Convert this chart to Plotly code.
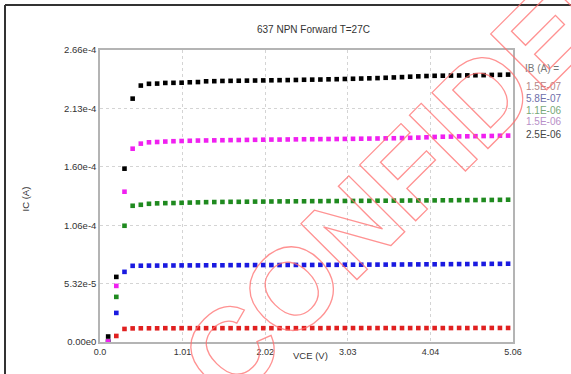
import plotly.graph_objects as go

# ---- data (IC in microamps) ----
vce = [0.1, 0.2, 0.3, 0.4, 0.5, 0.6, 0.7, 0.8, 0.9, 1.0,
       1.1, 1.2, 1.3, 1.4, 1.5, 1.6, 1.7, 1.8, 1.9, 2.0,
       2.1, 2.2, 2.3, 2.4, 2.5, 2.6, 2.7, 2.8, 2.9, 3.0,
       3.1, 3.2, 3.3, 3.4, 3.5, 3.6, 3.7, 3.8, 3.9, 4.0,
       4.1, 4.2, 4.3, 4.4, 4.5, 4.6, 4.7, 4.8, 4.9, 5.0]

ib_labels = ["1.5E-07", "5.8E-07", "1.1E-06", "1.5E-06", "2.5E-06"]

ic_ib1 = [0.3, 5.5, 11.9, 12.4, 12.5, 12.5, 12.5, 12.6, 12.5, 12.6,
          12.6, 12.6, 12.6, 12.6, 12.6, 12.6, 12.6, 12.6, 12.6, 12.6,
          12.6, 12.6, 12.6, 12.6, 12.6, 12.7, 12.6, 12.7, 12.7, 12.7,
          12.7, 12.7, 12.7, 12.7, 12.7, 12.7, 12.7, 12.7, 12.7, 12.7,
          12.7, 12.7, 12.7, 12.8, 12.7, 12.8, 12.8, 12.8, 12.8, 12.8]

ic_ib2 = [0.3, 26.5, 63.9, 69.4, 69.5, 69.6, 69.6, 69.7, 69.7, 69.8,
          69.8, 69.8, 69.9, 69.9, 69.9, 70.0, 70.0, 70.0, 70.1, 70.1,
          70.1, 70.1, 70.2, 70.2, 70.2, 70.2, 70.3, 70.3, 70.3, 70.4,
          70.4, 70.4, 70.5, 70.5, 70.5, 70.6, 70.6, 70.7, 70.7, 70.8,
          70.8, 70.9, 70.9, 71.0, 71.0, 71.1, 71.1, 71.2, 71.2, 71.3]

ic_ib3 = [0.3, 41.1, 105.9, 124.1, 125.0, 125.9, 126.3, 126.5, 126.6, 126.8,
          127.0, 127.2, 127.4, 127.5, 127.6, 127.7, 127.7, 127.8, 127.9, 127.9,
          128.0, 128.1, 128.1, 128.2, 128.2, 128.3, 128.3, 128.4, 128.4, 128.5,
          128.5, 128.6, 128.6, 128.7, 128.7, 128.8, 128.8, 128.9, 128.9, 129.0,
          129.0, 129.1, 129.1, 129.2, 129.2, 129.3, 129.4, 129.4, 129.5, 129.6]

ic_ib4 = [0.5, 51.1, 136.9, 176.1, 180.7, 181.9, 182.2, 182.6, 182.9, 183.1,
          183.3, 183.5, 183.6, 183.7, 183.8, 183.9, 184.0, 184.1, 184.2, 184.3,
          184.4, 184.4, 184.5, 184.6, 184.7, 184.7, 184.8, 184.9, 184.9, 185.0,
          185.1, 185.2, 185.3, 185.4, 185.5, 185.6, 185.8, 186.0, 186.2, 186.5,
          186.8, 187.0, 187.1, 187.3, 187.4, 187.5, 187.6, 187.7, 187.9, 188.0]

ic_ib5 = [5.0, 59.3, 157.9, 221.7, 233.6, 235.2, 235.4, 236.0, 236.1, 236.2,
          236.6, 236.8, 237.5, 237.6, 237.8, 237.9, 238.0, 238.1, 238.2, 238.3,
          238.4, 238.5, 238.6, 238.7, 238.9, 239.0, 239.1, 239.3, 239.4, 239.6,
          239.8, 240.0, 240.2, 240.4, 240.7, 241.0, 241.3, 241.7, 242.0, 242.3,
          242.5, 242.6, 242.7, 242.8, 242.9, 243.0, 243.1, 243.3, 243.4, 243.6]

series = [ic_ib1, ic_ib2, ic_ib3, ic_ib4, ic_ib5]
marker_colors = ["#e02020", "#1a1ae0", "#1f8a1f", "#f020f0", "#000000"]
label_colors = ["#b48888", "#6e6eaa", "#78a878", "#b890c8", "#444444"]

x_ticks = [0.0, 1.012, 2.024, 3.036, 4.048, 5.06]
x_ticktext = ["0.0", "1.01", "2.02", "3.03", "4.04", "5.06"]
y_ticks = [0.0, 5.32e-5, 1.064e-4, 1.596e-4, 2.128e-4, 2.66e-4]
y_ticktext = ["0.00e0", "5.32e-5", "1.06e-4", "1.60e-4", "2.13e-4", "2.66e-4"]

W, H = 571, 374
ML, MR, MT, MB = 100, 58, 50, 32
PW, PH = W - ML - MR, H - MT - MB


def px(xpix):
    return (xpix - ML) / PW


def py(ypix):
    return (H - MB - ypix) / PH


fig = go.Figure()
for vals, col in zip(series, marker_colors):
    fig.add_trace(go.Scatter(
        x=vce, y=[v * 1e-6 for v in vals], mode="markers",
        marker=dict(symbol="square", size=4.6, color=col, line=dict(width=0)),
        showlegend=False, hoverinfo="skip"))

font = "Liberation Sans, Arial, sans-serif"
ann = []
ann.append(dict(text="637 NPN Forward T=27C", x=px(313), y=py(22), xref="paper", yref="paper",
                showarrow=False, font=dict(family=font, size=10, color="#333333")))
ann.append(dict(text="IC (A)", x=px(18), y=py(199), xref="paper", yref="paper", textangle=-90,
                showarrow=False, font=dict(family=font, size=9.5, color="#333333")))
ann.append(dict(text="VCE (V)", x=px(310), y=py(363), xref="paper", yref="paper",
                showarrow=False, font=dict(family=font, size=9.5, color="#333333")))
ann.append(dict(text="IB (A) =", x=px(523), y=py(61), xref="paper", yref="paper", xanchor="left",
                showarrow=False, font=dict(family=font, size=10, color="#777777")))
leg_y = [79, 91, 103, 114, 127]
for lab, col, yy in zip(ib_labels, label_colors, leg_y):
    ann.append(dict(text=lab, x=px(524), y=py(yy), xref="paper", yref="paper", xanchor="left",
                    showarrow=False, font=dict(family=font, size=10, color=col)))
# watermark (outlined via post script)
ann.append(dict(text="CONFIDENTIAL", x=px(504), y=py(76), xref="paper", yref="paper",
                xanchor="center", yanchor="middle",
                textangle=-45, showarrow=False,
                font=dict(family=font, size=115, weight="bold",
                          color="rgba(255,120,120,0.6)")))

shapes = [
    dict(type="line", xref="paper", yref="paper", x0=px(5), x1=px(600), y0=py(5), y1=py(5),
         line=dict(color="#333333", width=2)),
    dict(type="line", xref="paper", yref="paper", x0=px(5), x1=px(5), y0=py(5), y1=py(400),
         line=dict(color="#333333", width=2)),
]

fig.update_layout(
    width=W, height=H,
    margin=dict(l=ML, r=MR, t=MT, b=MB),
    paper_bgcolor="white", plot_bgcolor="white",
    annotations=ann, shapes=shapes,
    font=dict(family=font),
)
fig.update_xaxes(range=[0, 5.06], tickvals=x_ticks, ticktext=x_ticktext,
                 showgrid=True, gridcolor="#d4d4d4", griddash="dot", gridwidth=1,
                 zeroline=False, showline=True, linecolor="#b4b4b4", linewidth=1.5, mirror=True,
                 ticks="", tickfont=dict(family=font, size=9, color="#333333"))
fig.update_yaxes(range=[0, 2.66e-4], tickvals=y_ticks, ticktext=y_ticktext,
                 showgrid=True, gridcolor="#d4d4d4", griddash="dot", gridwidth=1,
                 zeroline=False, showline=True, linecolor="#b4b4b4", linewidth=1.5, mirror=True,
                 ticks="", tickfont=dict(family=font, size=9.5, color="#333333"))

post = """
document.body.style.margin = '0';
document.body.style.overflow = 'hidden';
function outlineWM() {
  var els = document.querySelectorAll('text.annotation-text');
  els.forEach(function (t) {
    if (t.textContent === 'CONFIDENTIAL') {
      t.style.fill = 'none';
      t.style.stroke = 'rgba(255,110,110,0.75)';
      t.style.strokeWidth = '1.3px';
    }
  });
}
outlineWM();
setTimeout(outlineWM, 50);
setTimeout(outlineWM, 300);
"""

fig.write_html("out.html", post_script=post, config={"displayModeBar": False})
